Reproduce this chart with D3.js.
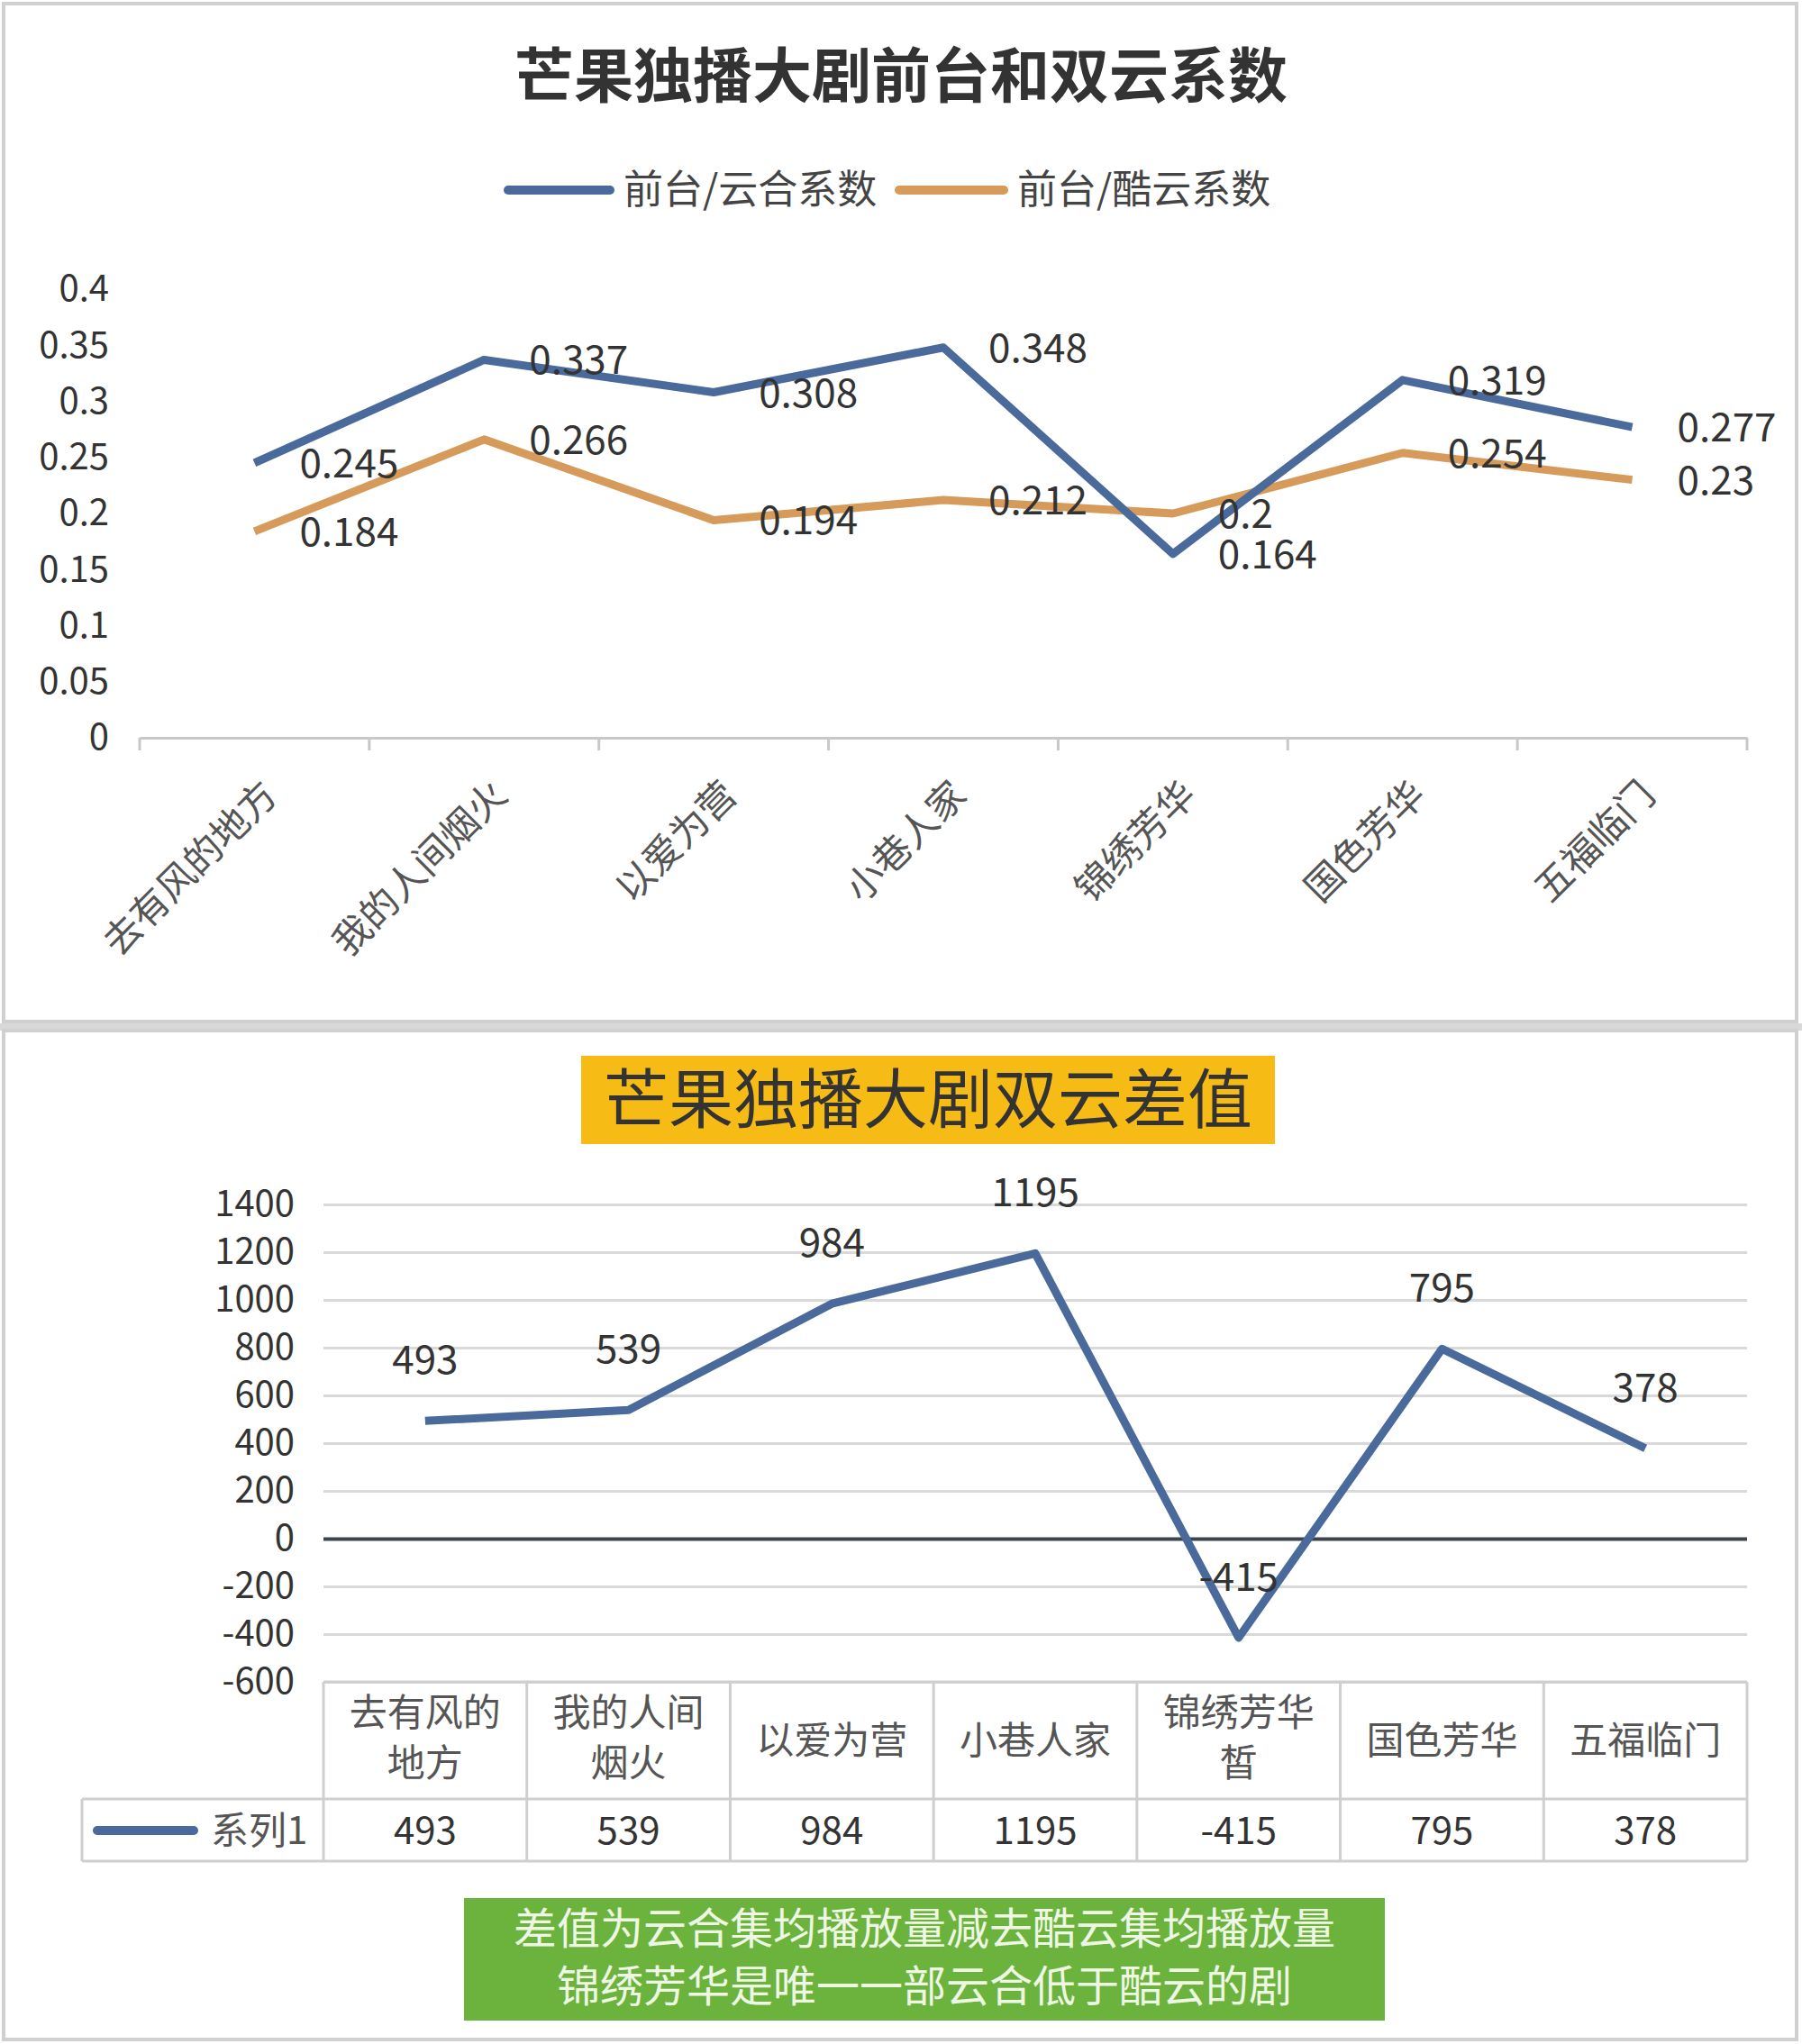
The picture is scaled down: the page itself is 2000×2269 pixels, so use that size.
<!DOCTYPE html><html><head><meta charset="utf-8"><script src="https://cdn.jsdelivr.net/npm/d3@7"></script>
<style>body{margin:0;background:#fff}svg text{font-family:"Noto Sans CJK SC","Noto Sans",sans-serif}</style></head><body>
<svg id="c" width="2000" height="2269"></svg>
<script>
const categories=["去有风的地方","我的人间烟火","以爱为营","小巷人家","锦绣芳华","国色芳华","五福临门"];
const yunhe=[0.245,0.337,0.308,0.348,0.164,0.319,0.277];
const kuyun=[0.184,0.266,0.194,0.212,0.2,0.254,0.23];
const topTicks=[0,0.05,0.1,0.15,0.2,0.25,0.3,0.35,0.4];
const tableHeaders=[["去有风的","地方"],["我的人间","烟火"],["以爱为营"],["小巷人家"],["锦绣芳华","皙"],["国色芳华"],["五福临门"]];
const diff=[493,539,984,1195,-415,795,378];
const diffTicks=[-600,-400,-200,0,200,400,600,800,1000,1200,1400];
const BLUE="#4a6a9b",ORANGE="#d69b5a",TXT="#333";
const svg=d3.select("#c");
svg.append("rect").attr("x",4).attr("y",4).attr("width",1990).attr("height",1130).attr("fill","#fff").attr("stroke","#d0d0d0").attr("stroke-width",4);
svg.append("rect").attr("x",0).attr("y",1136).attr("width",2000).attr("height",8).attr("fill","#d8d8d8");
svg.append("rect").attr("x",4).attr("y",1144).attr("width",1990).attr("height",1120).attr("fill","#fff").attr("stroke","#d0d0d0").attr("stroke-width",4);
svg.append("text").attr("x",1000).attr("y",108).attr("text-anchor","middle").attr("font-size",66).attr("font-weight","bold").attr("fill",TXT).text("芒果独播大剧前台和双云系数");
const leg=[[564,677,692,BLUE,"前台/云合系数"],[998,1114,1129,ORANGE,"前台/酷云系数"]];
leg.forEach(l=>{svg.append("line").attr("x1",l[0]).attr("x2",l[1]).attr("y1",211).attr("y2",211).attr("stroke",l[3]).attr("stroke-width",10).attr("stroke-linecap","round");
svg.append("text").attr("x",l[2]).attr("y",226).attr("font-size",44).attr("fill","#444").text(l[4]);});
const x1=d3.scaleBand().domain(categories).range([155,1939]);
const y1=d3.scaleLinear().domain([0,0.4]).range([819,321]);
const ax=svg.append("g").attr("transform","translate(0,819)").call(d3.axisBottom(x1).tickSize(0).tickFormat(""));
ax.select(".domain").attr("stroke","#c8c8c8").attr("stroke-width",3);
[...categories.map(c=>x1(c)),1939].forEach(v=>svg.append("line").attr("x1",v).attr("x2",v).attr("y1",819).attr("y2",833).attr("stroke","#c8c8c8").attr("stroke-width",3));
const ay=svg.append("g").attr("transform","translate(124,0)").call(d3.axisLeft(y1).tickValues(topTicks).tickSize(0).tickFormat(d=>String(+d.toFixed(2))));
ay.select(".domain").remove();ay.selectAll("text").attr("font-size",40).attr("fill",TXT).attr("font-family","Noto Sans");
categories.forEach(c=>{const cx=x1(c)+x1.bandwidth()/2;
svg.append("text").attr("transform",`translate(${cx+28},885) rotate(-45)`).attr("text-anchor","end").attr("font-size",42).attr("fill","#555").text(c);});
const ln1=d3.line().x((d,i)=>x1(categories[i])+x1.bandwidth()/2).y(d=>y1(d));
[[kuyun,ORANGE],[yunhe,BLUE]].forEach(s=>{svg.append("path").attr("d",ln1(s[0])).attr("fill","none").attr("stroke",s[1]).attr("stroke-width",9).attr("stroke-linejoin","round");});
[yunhe,kuyun].forEach(s=>s.forEach((v,i)=>svg.append("text").attr("x",x1(categories[i])+x1.bandwidth()/2+50).attr("y",y1(v)+16).attr("font-size",44).attr("fill",TXT).attr("font-family","Noto Sans").text(v)));
svg.append("rect").attr("x",645).attr("y",1172).attr("width",770).attr("height",98).attr("fill","#f6bb14");
svg.append("text").attr("x",1030).attr("y",1246).attr("text-anchor","middle").attr("font-size",72).attr("fill",TXT).text("芒果独播大剧双云差值");
const x2=d3.scaleBand().domain(categories).range([359,1939]);
const y2=d3.scaleLinear().domain([-600,1400]).range([1867,1337]);
const g2=svg.append("g").attr("transform","translate(1939,0)").call(d3.axisLeft(y2).tickValues(diffTicks).tickSize(1580).tickFormat(""));
g2.select(".domain").remove();g2.selectAll("line").attr("stroke",d=>d===0?"#3a4550":"#d9d9d9").attr("stroke-width",d=>d===0?4:3);
const ay2=svg.append("g").attr("transform","translate(330,0)").call(d3.axisLeft(y2).tickValues(diffTicks).tickSize(0).tickFormat(d=>String(d)));
ay2.select(".domain").remove();ay2.selectAll("text").attr("font-size",40).attr("fill",TXT).attr("font-family","Noto Sans");
const ln2=d3.line().x((d,i)=>x2(categories[i])+x2.bandwidth()/2).y(d=>y2(d));
svg.append("path").attr("d",ln2(diff)).attr("fill","none").attr("stroke",BLUE).attr("stroke-width",9).attr("stroke-linejoin","round");
diff.forEach((v,i)=>svg.append("text").attr("x",x2(categories[i])+x2.bandwidth()/2).attr("y",y2(v)-52).attr("text-anchor","middle").attr("font-size",44).attr("fill",TXT).attr("font-family","Noto Sans").text(v));
const tc="#cfcfcf";
const T=1867,M=1997,B=2066;
svg.append("line").attr("x1",359).attr("x2",1939).attr("y1",T).attr("y2",T).attr("stroke",tc).attr("stroke-width",3);
svg.append("line").attr("x1",91).attr("x2",1939).attr("y1",M).attr("y2",M).attr("stroke",tc).attr("stroke-width",3);
svg.append("line").attr("x1",91).attr("x2",1939).attr("y1",B).attr("y2",B).attr("stroke",tc).attr("stroke-width",3);
svg.append("line").attr("x1",91).attr("x2",91).attr("y1",M).attr("y2",B).attr("stroke",tc).attr("stroke-width",3);
[...categories.map(c=>x2(c)),1939].forEach(v=>svg.append("line").attr("x1",v).attr("x2",v).attr("y1",T).attr("y2",B).attr("stroke",tc).attr("stroke-width",3));
categories.forEach((c,i)=>{const cx=x2(c)+x2.bandwidth()/2;const h=tableHeaders[i];
h.forEach((t,j)=>svg.append("text").attr("x",cx).attr("y",(h.length===1?1947:1916+j*56)).attr("text-anchor","middle").attr("font-size",42).attr("fill","#555").text(t));
svg.append("text").attr("x",cx).attr("y",2047).attr("text-anchor","middle").attr("font-size",42).attr("fill",TXT).attr("font-family","Noto Sans").text(diff[i]);});
svg.append("line").attr("x1",108).attr("x2",215).attr("y1",2032).attr("y2",2032).attr("stroke",BLUE).attr("stroke-width",10).attr("stroke-linecap","round");
svg.append("text").attr("x",234).attr("y",2047).attr("font-size",42).attr("fill","#555").text("系列1");
svg.append("rect").attr("x",515).attr("y",2107).attr("width",1022).attr("height",136).attr("fill","#6cb33e");
["差值为云合集均播放量减去酷云集均播放量","锦绣芳华是唯一一部云合低于酷云的剧"].forEach((t,i)=>svg.append("text").attr("x",1026).attr("y",2158+i*64).attr("text-anchor","middle").attr("font-size",48).attr("fill","#eef7e4").text(t));
</script></body></html>
